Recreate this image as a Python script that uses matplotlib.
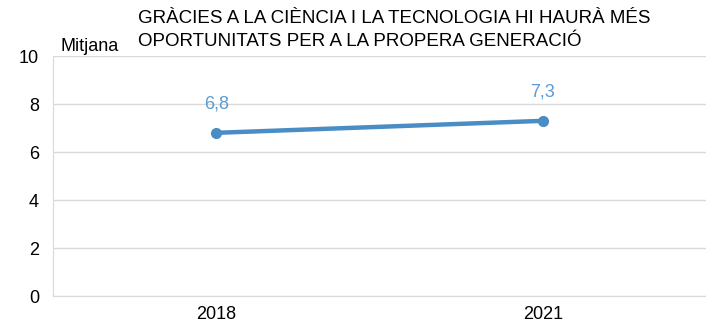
import matplotlib.pyplot as plt

plt.rcParams['font.family'] = ['Liberation Sans', 'DejaVu Sans']

years = ['2018', '2021']
mitjana = [6.8, 7.3]
value_labels = ['6,8', '7,3']
y_ticks = [0, 2, 4, 6, 8, 10]

title = 'GRÀCIES A LA CIÈNCIA I LA TECNOLOGIA HI HAURÀ MÉS\nOPORTUNITATS PER A LA PROPERA GENERACIÓ'

line_color = '#4a8cc4'
label_color = '#5b9bd5'
grid_color = '#d9d9d9'

fig = plt.figure(figsize=(7.06, 3.24), dpi=100)
ax = fig.add_axes([0.075, 0.0864, 0.925, 0.7406])

x = range(len(years))
ax.plot(x, mitjana, color=line_color, linewidth=3.2, marker='o', markersize=7,
        solid_capstyle='round', zorder=3)
for xi, v, lab in zip(x, mitjana, value_labels):
    ax.annotate(lab, (xi, v), xytext=(0, 15), textcoords='offset points',
                ha='center', va='bottom', fontsize=13, color=label_color)

ax.set_xlim(-0.5, len(years) - 0.5)
ax.set_ylim(0, 10)
ax.set_xticks(list(x))
ax.set_xticklabels(years)
ax.set_yticks(y_ticks)
ax.tick_params(axis='both', length=0, labelsize=13, colors='#000000')
ax.tick_params(axis='x', pad=7)
ax.tick_params(axis='y', pad=10)

ax.grid(axis='y', color=grid_color, linewidth=1)
ax.set_axisbelow(True)
for side in ['top', 'right']:
    ax.spines[side].set_visible(False)
ax.spines['left'].set_color(grid_color)
ax.spines['bottom'].set_color(grid_color)

fig.text(0.085, 0.857, 'Mitjana', fontsize=13, ha='left', va='center')
fig.text(0.195, 0.907, title, fontsize=13.5, ha='left', va='center', linespacing=1.42)

fig.savefig('out.png', dpi=100)
